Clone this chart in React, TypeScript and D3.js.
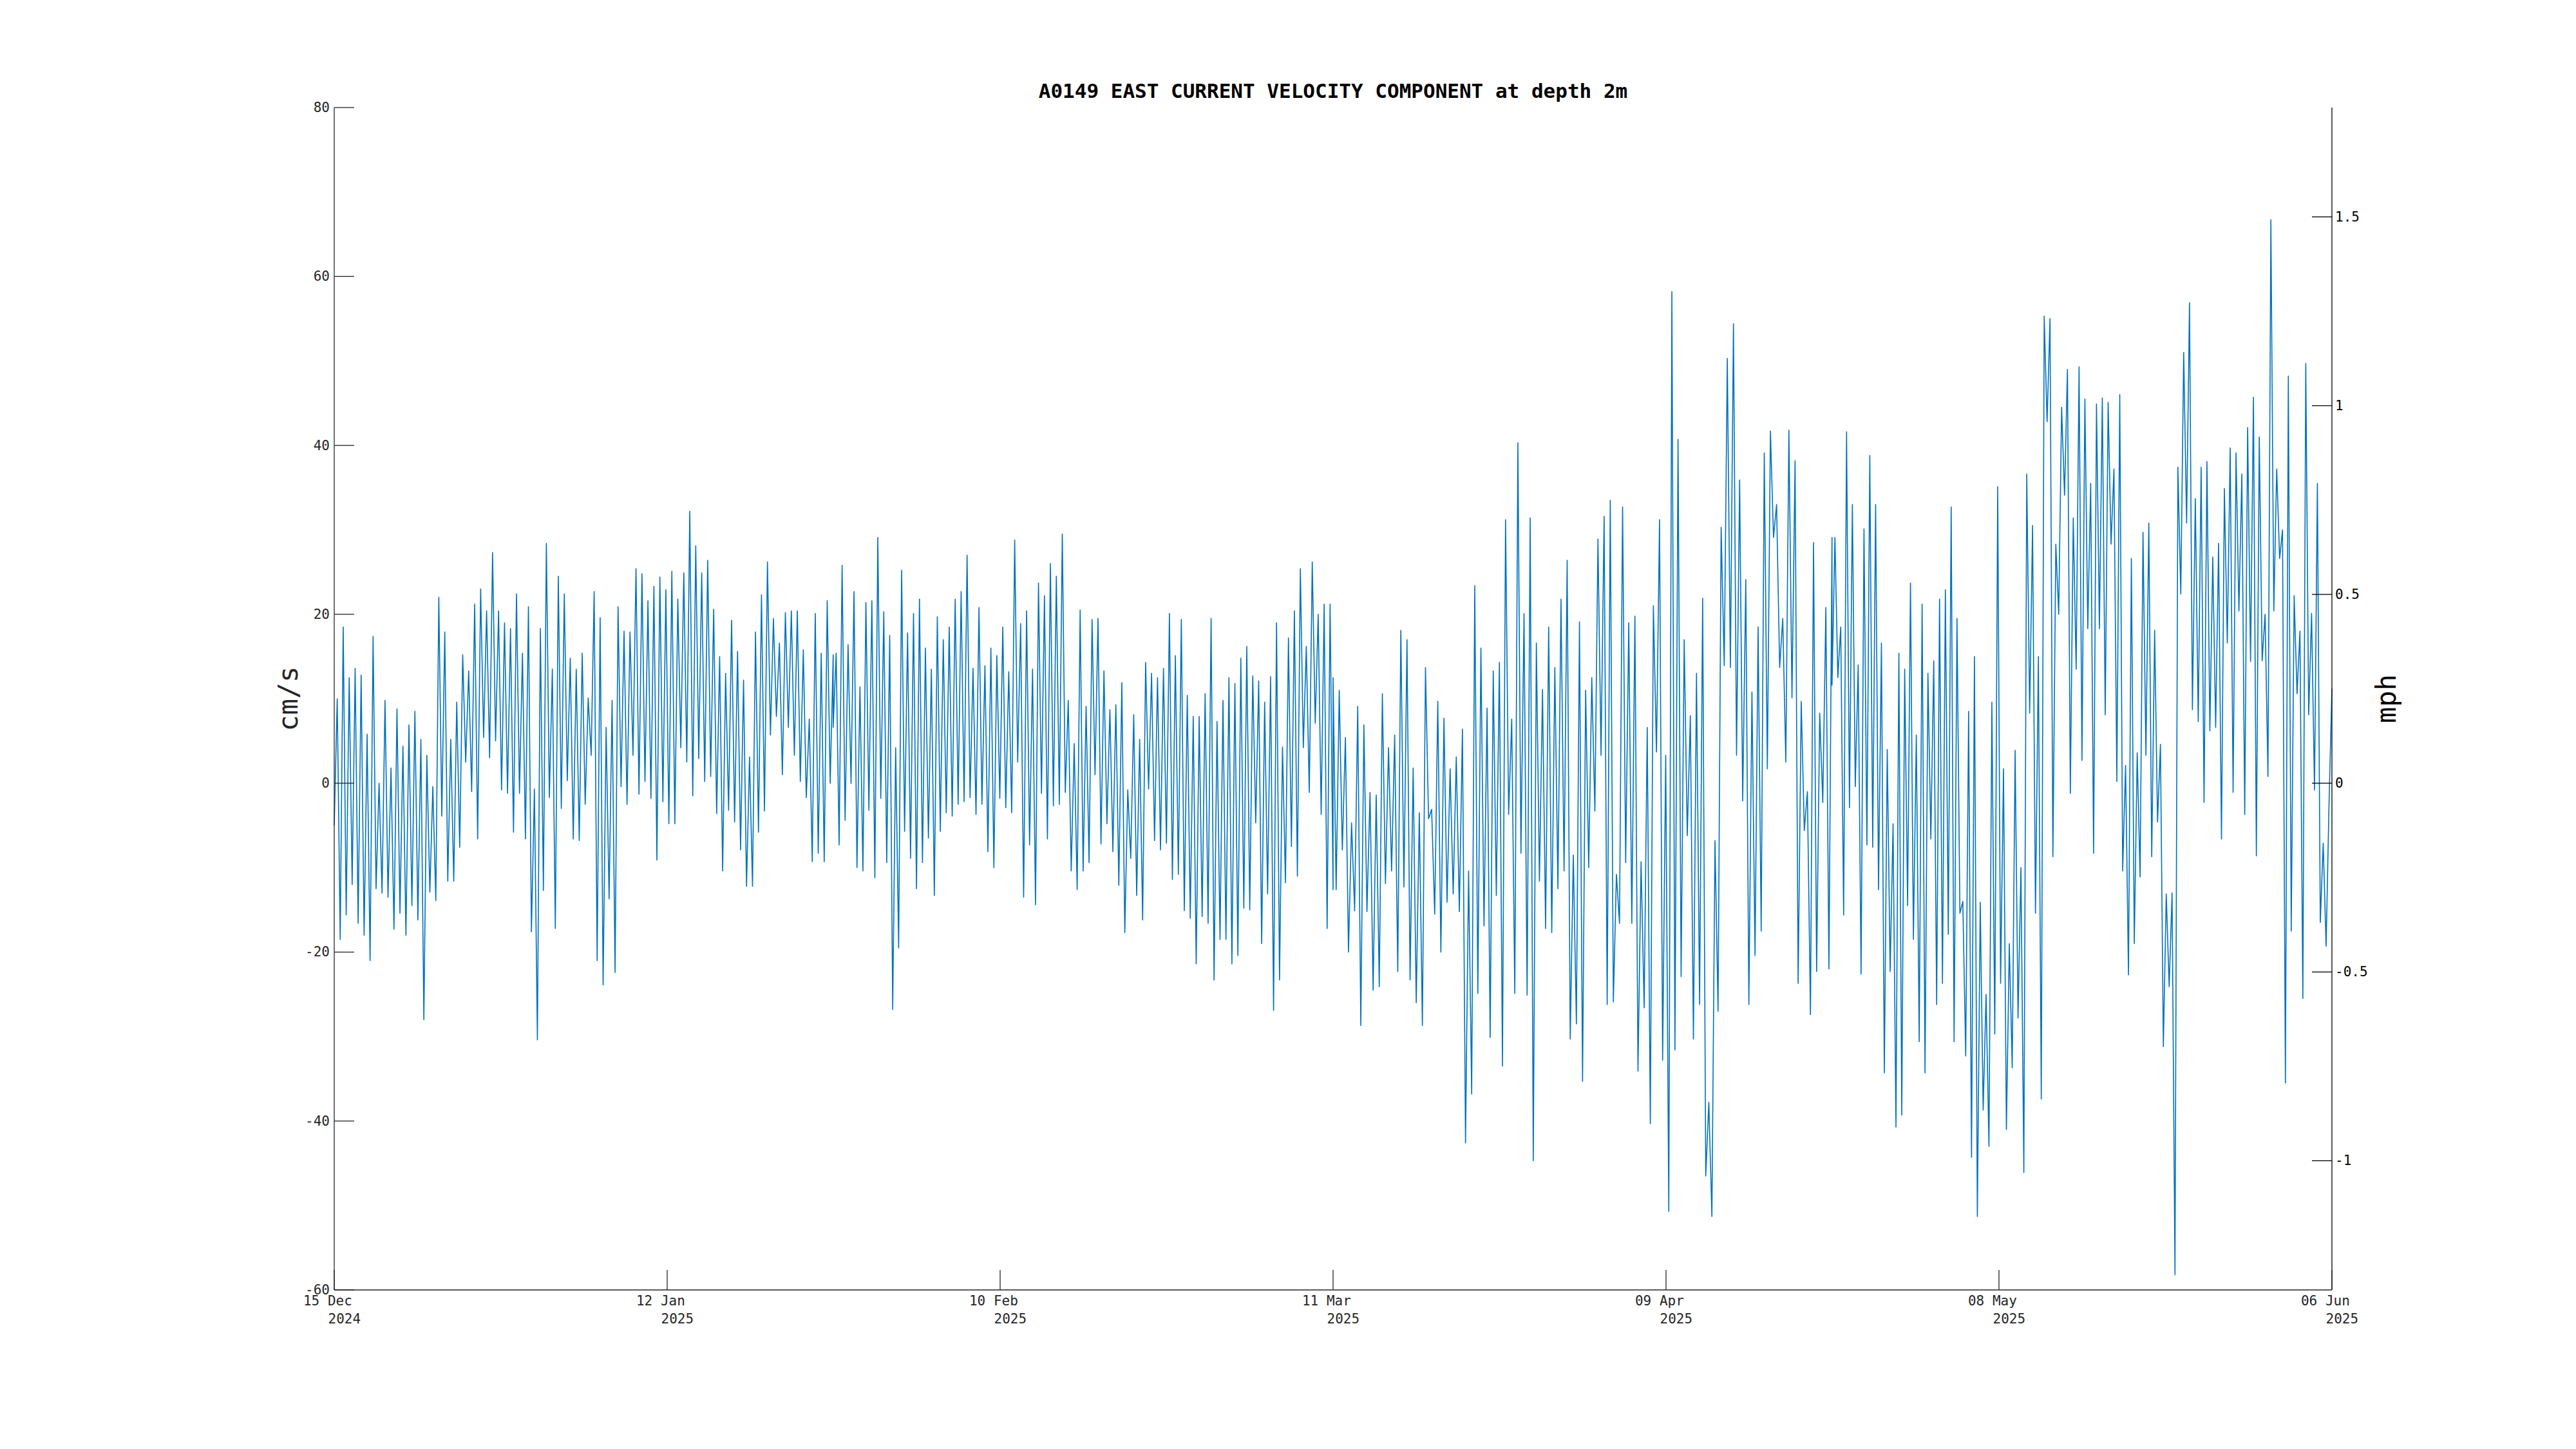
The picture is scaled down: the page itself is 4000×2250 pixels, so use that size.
import React, { useEffect } from 'react';
import * as d3 from 'd3';

const title = 'A0149 EAST CURRENT VELOCITY COMPONENT at depth 2m';
const CM_PER_MPH = 44.704;

const segmentBounds = [
  '2024-12-15 00:00',
  '2025-01-27 05:00',
  '2025-03-11 12:00',
  '2025-04-23 17:00',
  '2025-06-06 00:00',
];

const seg1 = [
  -5, 10, -18.5, 18.5, -15.6, 12.5, -12, 13.6, -16.6, 12.8, -18, 5.8, -21, 17.4, -12.5, 0, -13, 9.8, -13.5, 1.8,
  -17.3, 8.8, -15.4, 4.4, -18, 6.9, -14.5, 8.5, -16.2, 5.2, -28, 3.3, -12.9, -0.4, -13.9, 22, -3.9, 17.9, -11.6, 5.2,
  -11.6, 9.6, -7.6, 15.2, 2.5, 13.3, -1, 21.2, -6.6, 23, 5.4, 20.4, 3, 27.3, 5, 20.4, -0.8, 19, -1.2, 18.3,
  -5.8, 22.4, -1.2, 15.4, -6.6, 20.9, -17.6, -0.7, -30.4, 18.3, -12.7, 28.4, -1.7, 13.5, -17.2, 24.5, -3, 22.4, 0.3, 14.8,
  -6.6, 13.5, -6.8, 15.4, -2.5, 10.1, 3.3, 22.7, -21, 19.6, -23.9, 6.6, -13.7, 9.8, -22.4, 20.9, -0.4, 18, -2.5, 17.9,
  3.3, 25.4, -1.3, 24.8, 0.2, 21.6, -1.8, 23.3, -9.1, 24.4, -2.2, 22.9, -4.8, 25.1, -4.8, 21.8, 4.2, 24.9, 2.5, 32.2,
  -1.5, 28.1, 2.9, 24.9, 0.2, 26.4, 0.8, 20.6, -3.6, 15, -10.4, 13, -3.2, 19.3, -4.6, 15.6, -7.9, 12.2, -12.2, 3.1,
  -12.2, 17.9, -5.8, 22.3, -3.3, 26.2, 5.7, 19.5, 7.9, 16.6, 1, 20.2, 6.6, 20.4, 3.3, 20.4, 0.2, 15.8, -1.7, 7.6,
  -9.3, 20.1, -8.3, 15.4, -9.3, 21.6, 0, 15.2,
];

const seg2 = [
  6.6, 15.4, -7.3, 25.8, -4.4, 16.4, 0, 22.7, -10, 11.4, -10.4, 21.4, -3.2, 21.6, -11.2, 29.1, -1.8, 20.3, -9.4, 17.5,
  -26.8, 4.2, -19.5, 25.2, -5.7, 17.8, -8.9, 20.1, -12.5, 21.8, -9.4, 16, -6.5, 13.5, -13.3, 19.7, -5.7, 17, -3.5, 18.5,
  -3.9, 21.8, -2.5, 22.7, -2.2, 27, -1.7, 13.6, -3.7, 20.8, -2.5, 13.9, -8.1, 16, -10, 15.1, -1.8, 18.5, -2.9, 13.2,
  -3.5, 28.8, 2.5, 18.9, -13.5, 20.4, -7.3, 13.5, -14.4, 23.7, -1.2, 22.2, -6.6, 26, -2.7, 24.5, -2.5, 29.5, -1.1, 9.8,
  -10.4, 4.7, -12.6, 20.5, -10.4, 9.1, -9.4, 19.4, 1, 19.5, -7.2, 13.3, -4.8, 8.7, -8.1, 9.3, -12.1, 11.9, -17.7, -0.8,
  -8.9, 8.1, -13.3, 5.2, -16.2, 14.3, -0.7, 13, -6.8, 12.5, -7.9, 13.6, -7.1, 20.1, -11.4, 15.1, -10.8, 19.4, -15.1, 10.4,
  -16, 7.9, -21.4, 7.9, -15.8, 10.6, -16.6, 19.5, -23.3, 7.3, -18.5, 9.8, -18.5, 12.5, -21.4, 11.8, -20.4, 14.8, -14.8, 16.2,
  -15, 12.7, -4.7, 12.1, -19, 9.6, -13.1, 12.6, -26.9, 19, -23.3, 4.3, -11.8, 17.2, -7.5, 20.4, -11, 25.4, 4.2, 16.2,
  -1.1, 26.2, 7.1, 20, -3.7, 21.2, -17.2, 21.2, -12.6,
];

const seg3 = [
  12.5, -12.6, 11, -7.9, 5.4, -20, -4.7, -15.1, 9.1, -28.7, 6.9, -15.2, -1.1, -24.5, -1.4, -24.1, 10.6, -11.9, 4.2, -10.4,
  5.7, -22.3, 18.1, -12.3, 17, -23.3, 1.8, -26, -3.5, -28.7, 13.7, -4.2, -3.1, -15.5, 9.7, -20, 7.7, -14.1, 1.7, -13.1,
  3.1, -15.2, 6.4, -42.6, -10.4, -36.8, 23.4, -24.9, 16, -16.9, 8.9, -30.1, 13.3, -13.3, 14.3, -33.5, 31.2, -3.7, 7.6, -24.9,
  40.3, -8.3, 20.1, -25.1, 31.4, -44.7, 16.6, -11.6, 11.1, -17.2, 18.5, -17.7, 13.7, -12.5, 21.8, -10.4, 26.4, -30.3, -8.5, -28.5,
  19.1, -35.3, 11, -10, 12.5, -3.3, 28.9, 3.3, 31.6, -26.2, 33.5, -25.9, -10.8, -16.6, 32.7, -9.4, 19, -16.6, 19.8, -34.1,
  -9.3, -26.6, 6.6, -40.3, 21, 3.7, 31.2, -32.8, 3.3, -50.7, 58.2, -31.6, 40.7, -22.9, 17, -6.2, 8, -30.3, 13, -26.2,
  21.9, -46.5, -37.8, -51.3, -6.8, -27, 30.3, 13.9, 50.3, 13.7, 54.4, 3.3, 35.9, -2.1, 24.1, -26.2, 10.8, -20.4, 18.5, -17.5,
  39.1, 1.7, 41.7, 29.1, 33, 13.7, 19.5, 2.5, 41.8, 10.1, 38.2, -23.7, 9.7, -5.6, -1, -27.4, 28.5, -22.3, 8.3, -2.3,
  20.8, -22, 29.1,
];

const seg4 = [
  11.6, 29.1, 12.5, 18.5, -15.6, 41.6, -2.9, 33, -0.4, 14, -22.6, 30.1, -7.3, 38.8, -7.6, 33, -12.6, 16.6, -34.3, 4,
  -22.3, -4.8, -40.7, 15.4, -39.3, 13.5, -14.5, 23.7, -18.5, 5.7, -30.6, 21.2, -34.3, 13, -6.6, 14.5, -26.2, 21.8, -23.7, 22.9,
  -17.9, 32.7, -30.6, 19.5, -15.4, -14, -32.3, 8.5, -44.3, 15, -51.3, -14.1, -38.7, -25, -43, 9.6, -29.7, 35.1, -23.7, 1.7,
  -41, -19, -33.7, 3.9, -27.8, -10, -46.1, 36.6, 8.3, 30.5, -15.4, 15, -37.4, 55.3, 42.8, 55, -8.7, 28.3, 20, 44.5,
  34.1, 49, -1.2, 31.4, 13.5, 49.3, 2.7, 45.5, 18.3, 35.5, -8.3, 44.9, 18.3, 45.6, 8.1, 45.1, 28.3, 37.2, 0.2, 46,
  -10.4, 2.1, -22.7, 26.6, -19, 3.6, -11.1, 29.7, 3.3, 30.8, -8.7, 18.1, -4.6, 4.6, -31.2, -13.1, -24.1, -13, -58.2, 37.4,
  22.4, 51, 30.8, 56.9, 8.7, 33.7, 7.3, 37.4, -2.3, 38.1, 6.2, 26.8, 6.6, 28.4, -6.6, 34.9, 16.6, 39.7, -1.1, 39.1,
  20.4, 36.6, -3.7, 42.1, 14.4, 45.7, -8.6, 41, 14.5, 20, 0.8, 66.7, 20.4, 37.2, 26.6, 30, -35.5, 48.2, -17.5, 22.2,
  10.6, 18, -25.5, 49.7, 8.1, 20.1, -0.8, 35.5, -16.5, -7.1, -19.3, -2.5, 11.2,
];

const segments = [seg1, seg2, seg3, seg4];

const cmTicks = [-60, -40, -20, 0, 20, 40, 60, 80];
const mphTicks = [-1, -0.5, 0, 0.5, 1, 1.5];
const dateTicks = [
  '2024-12-15 00:00',
  '2025-01-12 20:00',
  '2025-02-10 16:00',
  '2025-03-11 12:00',
  '2025-04-09 08:00',
  '2025-05-08 04:00',
  '2025-06-06 00:00',
];

const parse = d3.timeParse('%Y-%m-%d %H:%M');

export default function App() {
  useEffect(() => {
    document.body.style.margin = '0';
  }, []);

  const W = 4000;
  const H = 2250;
  const margin = { top: 167, right: 379, bottom: 247, left: 519 };
  const x0 = margin.left;
  const x1 = W - margin.right;
  const y0 = margin.top;
  const y1 = H - margin.bottom;

  const bounds = segmentBounds.map((s) => parse(s) as Date);
  const points: { t: Date; v: number }[] = [];
  segments.forEach((vals, i) => {
    const a = bounds[i].getTime();
    const b = bounds[i + 1].getTime();
    vals.forEach((v, j) => {
      points.push({ t: new Date(a + ((b - a) * j) / (vals.length - 1)), v });
    });
  });

  const x = d3.scaleTime().domain([bounds[0], bounds[bounds.length - 1]]).range([x0, x1]);
  const y = d3.scaleLinear().domain([-60, 80]).range([y1, y0]);
  const yR = d3
    .scaleLinear()
    .domain([-60 / CM_PER_MPH, 80 / CM_PER_MPH])
    .range([y1, y0]);

  const line = d3
    .line<{ t: Date; v: number }>()
    .x((d) => x(d.t))
    .y((d) => y(d.v));

  const font = '"DejaVu Sans Mono", monospace';
  const tickLen = 31;
  const fs = 21;
  const cw = fs * 0.602;
  const fmtDay = d3.timeFormat('%d %b');
  const fmtYear = d3.timeFormat('%Y');

  return (
    <svg
      width={W}
      height={H}
      style={{ display: 'block', background: '#fff' }}
      fontFamily={font}
    >
      <rect x={0} y={0} width={W} height={H} fill="#fff" />
      <path d={line(points) || ''} fill="none" stroke="#0072BD" strokeWidth={1.6} strokeLinejoin="round" />

      {/* left axis */}
      <line x1={x0} x2={x0} y1={y0} y2={y1} stroke="#262626" strokeWidth={1.3} />
      {cmTicks.map((t) => (
        <g key={'l' + t}>
          <line x1={x0} x2={x0 + tickLen} y1={y(t)} y2={y(t)} stroke="#262626" strokeWidth={1.3} />
          <text x={x0 - 7} y={y(t)} textAnchor="end" dominantBaseline="central" fontSize={fs} fill="#262626">
            {t}
          </text>
        </g>
      ))}
      <text
        transform={`translate(462,${(y0 + y1) / 2}) rotate(-90)`}
        textAnchor="middle"
        fontSize={42}
        fill="#262626"
      >
        cm/s
      </text>

      {/* right axis */}
      <line x1={x1} x2={x1} y1={y0} y2={y1} stroke="#000" strokeWidth={1.3} />
      {mphTicks.map((t) => (
        <g key={'r' + t}>
          <line x1={x1 - tickLen} x2={x1} y1={yR(t)} y2={yR(t)} stroke="#000" strokeWidth={1.3} />
          <text x={x1 + 5} y={yR(t)} dominantBaseline="central" fontSize={fs} fill="#000">
            {t}
          </text>
        </g>
      ))}
      <text
        transform={`translate(3720,${(y0 + y1) / 2}) rotate(-90)`}
        textAnchor="middle"
        fontSize={42}
        fill="#000"
      >
        mph
      </text>

      {/* bottom axis */}
      <line x1={x0} x2={x1} y1={y1} y2={y1} stroke="#262626" strokeWidth={1.3} />
      {dateTicks.map((s) => {
        const d = parse(s) as Date;
        const px = x(d);
        return (
          <g key={s}>
            <line x1={px} x2={px} y1={y1} y2={y1 - tickLen} stroke="#262626" strokeWidth={1.3} />
            <text x={px - 3.8 * cw} y={y1 + 24} fontSize={fs} fill="#262626">
              {fmtDay(d)}
            </text>
            <text x={px - 0.75 * cw} y={y1 + 52} fontSize={fs} fill="#262626">
              {fmtYear(d)}
            </text>
          </g>
        );
      })}

      <text x={(x0 + x1) / 2} y={152} textAnchor="middle" fontSize={31} fontWeight="bold" fill="#000">
        {title}
      </text>
    </svg>
  );
}
